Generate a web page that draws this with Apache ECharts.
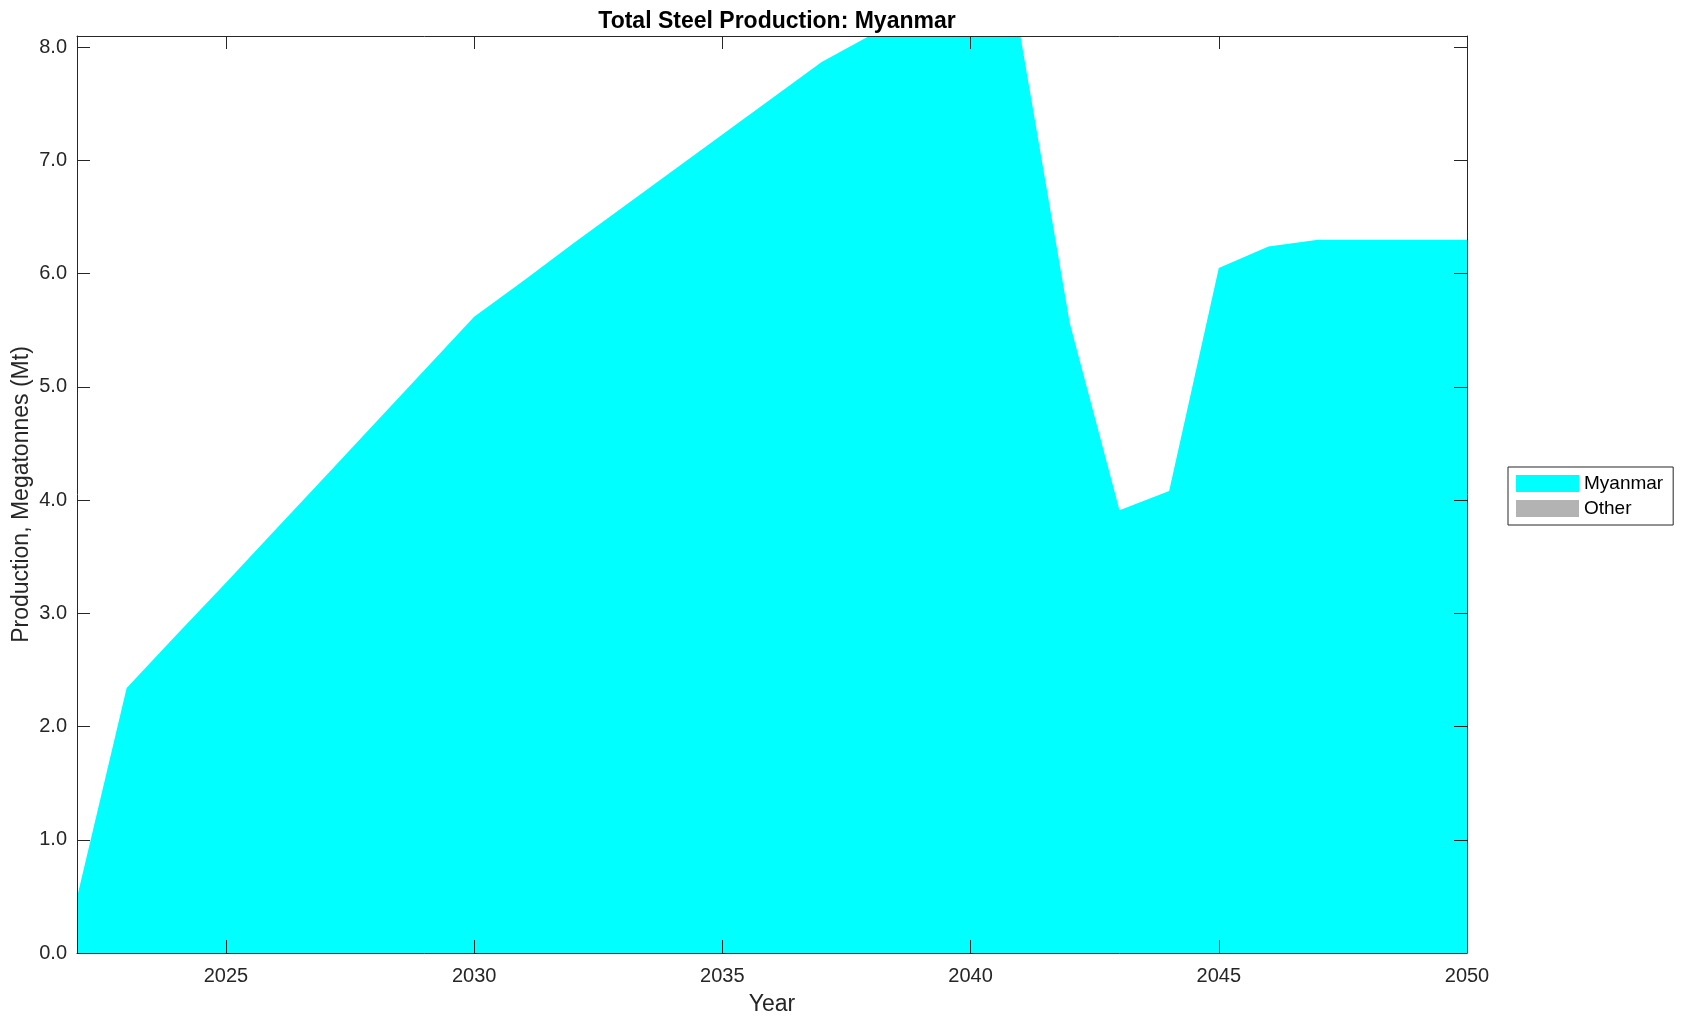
<!DOCTYPE html>
<html>
<head>
<meta charset="utf-8">
<script src="https://cdn.jsdelivr.net/npm/echarts@6/dist/echarts.min.js"></script>
<style>
html,body{margin:0;padding:0;background:#fff;}
#chart{width:1684px;height:1021px;}
</style>
</head>
<body>
<div id="chart"></div>
<script>
// Data
const years = [2022,2023,2024,2025,2026,2027,2028,2029,2030,2031,2032,2033,2034,2035,2036,2037,2038,2039,2040,2041,2042,2043,2044,2045,2046,2047,2048,2049,2050];
const myanmar = [0.49,2.34,2.81,3.27,3.74,4.21,4.68,5.15,5.62,5.94,6.27,6.59,6.91,7.23,7.55,7.87,8.11,8.25,8.30,8.11,5.56,3.91,4.08,6.05,6.24,6.30,6.30,6.30,6.30];
const other = [];
const xTicks = [2025,2030,2035,2040,2045,2050];
const yTicks = [0,1,2,3,4,5,6,7,8];
const seriesNames = ['Myanmar','Other'];

const FONT = 'Liberation Sans, Arial, Helvetica, sans-serif';
const AX = '#262626';

const chart = echarts.init(document.getElementById('chart'), null, {renderer:'canvas'});

const tickCommon = {show:true, inside:true, length:13, lineStyle:{color:AX, width:1}};
const lineCommon = {show:true, onZero:false, lineStyle:{color:AX, width:1}};

chart.setOption({
  animation:false,
  backgroundColor:'#ffffff',
  title:{
    text:'Total Steel Production: Myanmar',
    left:772, top:5, textAlign:'center',
    textStyle:{fontFamily:FONT, fontSize:23, fontWeight:'bold', color:'#000'}
  },
  grid:{left:77, right:217, top:36, bottom:68, containLabel:false, outerBoundsMode:'none'},
  legend:{
    orient:'vertical', left:1508, top:467,
    data:[{name:seriesNames[0], icon:'rect'},{name:seriesNames[1], icon:'rect'}],
    itemWidth:63, itemHeight:17, itemGap:6,
    padding:[7,10,7,8],
    borderColor:'#262626', borderWidth:1,
    textStyle:{fontFamily:FONT, fontSize:19, lineHeight:17, color:'#000'}
  },
  xAxis:[{
    type:'value', min:2022, max:2050, position:'bottom', z:10,
    name:'Year', nameLocation:'middle', nameGap:40, nameMoveOverlap:false,
    nameTextStyle:{fontFamily:FONT, fontSize:23, color:AX},
    axisLine:lineCommon,
    axisTick:Object.assign({customValues:xTicks}, tickCommon),
    axisLabel:{customValues:xTicks, fontFamily:FONT, fontSize:20, color:AX, margin:13, formatter:v=>String(v)},
    splitLine:{show:false}
  },{
    type:'value', min:2022, max:2050, position:'top', z:10,
    axisLine:lineCommon,
    axisTick:Object.assign({customValues:xTicks}, tickCommon),
    axisLabel:{show:false},
    splitLine:{show:false}
  }],
  yAxis:[{
    type:'value', min:0, max:8.1, position:'left', z:10,
    name:'Production, Megatonnes (Mt)', nameLocation:'middle', nameGap:44, nameRotate:90, nameMoveOverlap:false,
    nameTextStyle:{fontFamily:FONT, fontSize:23, color:AX},
    axisLine:lineCommon,
    axisTick:Object.assign({customValues:yTicks}, tickCommon),
    axisLabel:{customValues:yTicks, fontFamily:FONT, fontSize:20, color:AX, margin:10, formatter:v=>v.toFixed(1)},
    splitLine:{show:false}
  },{
    type:'value', min:0, max:8.1, position:'right', z:10,
    axisLine:lineCommon,
    axisTick:Object.assign({customValues:yTicks}, tickCommon),
    axisLabel:{show:false},
    splitLine:{show:false}
  }],
  series:[{
    name:seriesNames[0], type:'line', stack:'total',
    data:years.map((y,i)=>[y, myanmar[i]]),
    showSymbol:false, symbol:'none', clip:true,
    lineStyle:{width:0, color:'#00ffff'},
    itemStyle:{color:'#00ffff'},
    areaStyle:{color:'#00ffff', opacity:1},
    z:1
  },{
    name:seriesNames[1], type:'line', stack:'total',
    data:other,
    showSymbol:false, symbol:'none',
    lineStyle:{width:0, color:'#b3b3b3'},
    itemStyle:{color:'#b3b3b3'},
    areaStyle:{color:'#b3b3b3', opacity:1}
  }]
});
</script>
</body>
</html>
